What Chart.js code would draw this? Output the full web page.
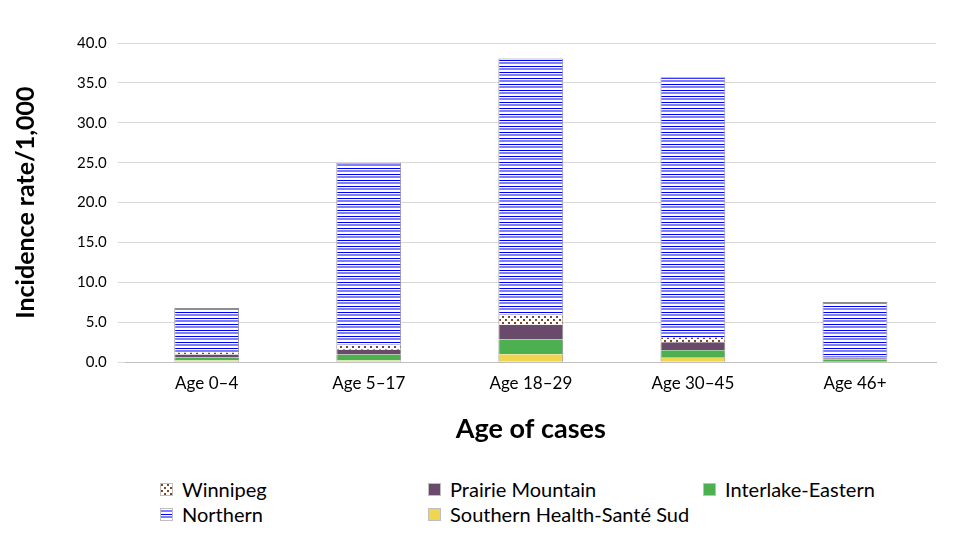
<!DOCTYPE html>
<html>
<head>
<meta charset="utf-8">
<script src="https://cdn.jsdelivr.net/npm/chart.js@4"></script>
<style>
  html, body { margin: 0; padding: 0; background: #fff; }
  #wrap { position: relative; width: 980px; height: 560px; font-family: Lato, sans-serif; }
  #chartBox { position: absolute; left: 0; top: 0; width: 980px; height: 449px; }
  #legend { position: absolute; left: 0; top: 477px; width: 980px; height: 60px; }
  .item { position: absolute; display: flex; align-items: center; font-size: 20px; color: #000; line-height: 24px; }
  .item canvas { width: 13px; height: 13px; margin-right: 9px; }
</style>
</head>
<body>
<div id="wrap">
  <div id="chartBox"><canvas id="chart"></canvas></div>
  <div id="legend"></div>
</div>
<script>
// categories and stacked values (rate per 1,000), bottom to top
const ageGroups = ['Age 0\u20134', 'Age 5\u201317', 'Age 18\u201329', 'Age 30\u201345', 'Age 46+'];
const southern = [0.2, 0.2, 1.0, 0.55, 0.05];
const interlake = [0.4, 0.75, 1.85, 0.95, 0.3];
const prairie = [0.35, 0.6, 1.85, 1.0, 0.15];
const winnipeg = [0.25, 0.65, 1.25, 0.6, 0.05];
const northern = [5.6, 22.8, 32.1, 32.6, 7.0];
const yTicks = [0, 5, 10, 15, 20, 25, 30, 35, 40];

// hatch patterns
function hLinePattern() {
    const c = document.createElement('canvas');
    c.width = 6; c.height = 6;
    const g = c.getContext('2d');
    g.fillStyle = '#ffffff'; g.fillRect(0, 0, 6, 6);
    g.fillStyle = '#0000ff'; g.fillRect(0, 0, 6, 1);
    g.fillStyle = '#8080ff'; g.fillRect(0, 2, 6, 2);
    return c;
}
function dotPattern() {
    const c = document.createElement('canvas');
    c.width = 6; c.height = 6;
    const g = c.getContext('2d');
    g.fillStyle = '#ffffff'; g.fillRect(0, 0, 6, 6);
    g.fillStyle = '#7a4a25';
    g.fillRect(1, 1, 2, 2);
    g.fillRect(4, 4, 2, 2);
    return c;
}
const ctx0 = document.createElement('canvas').getContext('2d');
const northernFill = ctx0.createPattern(hLinePattern(), 'repeat');
const winnipegFill = ctx0.createPattern(dotPattern(), 'repeat');

const series = [
    { label: 'Southern Health-Sant\u00e9 Sud', data: southern, fill: '#f0d550' },
    { label: 'Interlake-Eastern', data: interlake, fill: '#4caf50' },
    { label: 'Prairie Mountain', data: prairie, fill: '#6a4a6a' },
    { label: 'Winnipeg', data: winnipeg, fill: winnipegFill },
    { label: 'Northern', data: northern, fill: northernFill }
];

new Chart(document.getElementById('chart'), {
    type: 'bar',
    data: {
        labels: ageGroups,
        datasets: series.map((s, i) => ({
            label: s.label,
            data: s.data,
            backgroundColor: s.fill,
            borderColor: '#8c8c8c',
            // side edges on every segment, top edge only on the top one
            borderWidth: { left: 1, right: 1, top: i === series.length - 1 ? 1 : 0, bottom: 0 },
            barPercentage: 0.4,
            categoryPercentage: 1.0
        }))
    },
    options: {
        responsive: true,
        maintainAspectRatio: false,
        animation: false,
        layout: { padding: { left: 7, right: 44, top: 43, bottom: 0 } },
        plugins: { legend: { display: false }, tooltip: { enabled: false } },
        scales: {
            x: {
                stacked: true,
                grid: { display: false },
                border: { color: '#bfbfbf' },
                ticks: { color: '#000', font: { family: 'Lato', size: 17 }, padding: 3 },
                title: { display: true, text: 'Age of cases', color: '#000', font: { family: 'Lato', size: 27, weight: 'bold' }, padding: { top: 16 } }
            },
            y: {
                stacked: true,
                min: 0,
                max: 40,
                afterBuildTicks: axis => { axis.ticks = yTicks.map(v => ({ value: v })); },
                grid: { color: '#d9d9d9' },
                border: { display: false },
                ticks: { color: '#000', font: { family: 'Lato', size: 15 }, padding: 11, callback: v => v.toFixed(1) },
                title: { display: true, text: 'Incidence rate/1,000', color: '#000', font: { family: 'Lato', size: 25, weight: 'bold' }, padding: { bottom: 25 } }
            }
        }
    }
});

// legend laid out in three columns like the original
const legendPos = [
    { name: 'Winnipeg', x: 160, y: 0 },
    { name: 'Prairie Mountain', x: 428, y: 0 },
    { name: 'Interlake-Eastern', x: 703, y: 0 },
    { name: 'Northern', x: 160, y: 25 },
    { name: 'Southern Health-Sant\u00e9 Sud', x: 428, y: 25 }
];
const legend = document.getElementById('legend');
for (const p of legendPos) {
    const s = series.find(d => d.label === p.name);
    const item = document.createElement('div');
    item.className = 'item';
    item.style.left = p.x + 'px';
    item.style.top = p.y + 'px';
    const sw = document.createElement('canvas');
    sw.width = 13; sw.height = 13;
    const g = sw.getContext('2d');
    g.fillStyle = s.fill;
    g.fillRect(0, 0, 13, 13);
    g.strokeStyle = '#bfbfbf';
    g.strokeRect(0.5, 0.5, 12, 12);
    item.appendChild(sw);
    item.appendChild(document.createTextNode(p.name));
    legend.appendChild(item);
}
</script>
</body>
</html>
